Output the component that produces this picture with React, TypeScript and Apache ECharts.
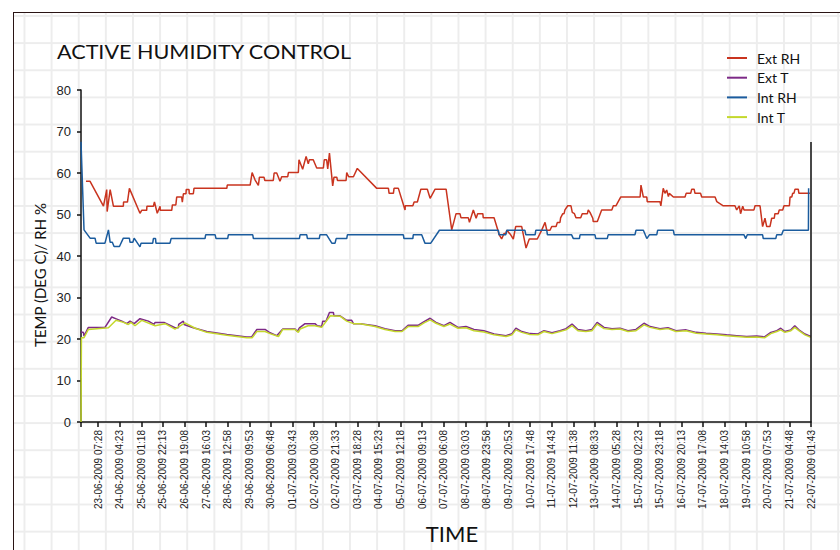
import React, { useEffect, useRef } from "react";
import * as echarts from "echarts";

// Tick labels (one every 20h55m); x values of the series below are expressed
// in units of this label step (0 = first label, 33 = last label).
const tickLabels = [
  "23-06-2009 07:28", "24-06-2009 04:23", "25-06-2009 01:18", "25-06-2009 22:13",
  "26-06-2009 19:08", "27-06-2009 16:03", "28-06-2009 12:58", "29-06-2009 09:53",
  "30-06-2009 06:48", "01-07-2009 03:43", "02-07-2009 00:38", "02-07-2009 21:33",
  "03-07-2009 18:28", "04-07-2009 15:23", "05-07-2009 12:18", "06-07-2009 09:13",
  "07-07-2009 06:08", "08-07-2009 03:03", "08-07-2009 23:58", "09-07-2009 20:53",
  "10-07-2009 17:48", "11-07-2009 14:43", "12-07-2009 11:38", "13-07-2009 08:33",
  "14-07-2009 05:28", "15-07-2009 02:23", "15-07-2009 23:18", "16-07-2009 20:13",
  "17-07-2009 17:08", "18-07-2009 14:03", "19-07-2009 10:58", "20-07-2009 07:53",
  "21-07-2009 04:48", "22-07-2009 01:43",
];
const X_START = -0.79;
const X_END = 33;
const yTicks = [0, 10, 20, 30, 40, 50, 60, 70, 80];

const seriesNames = ["Ext RH", "Ext T", "Int RH", "Int T"];

const extRH: [number, number][] = [
  [-0.56,58],[-0.37,58],[0.25,52],[0.40,56],[0.42,50.7],[0.56,56],[0.71,52],[1.17,52],[1.18,53],[1.36,53],
  [1.45,56.3],[1.94,50.3],[2.02,51],[2.25,51],[2.26,52],[2.56,52],[2.61,53],[2.74,50.3],[2.87,52],[2.88,51],
  [3.41,51],[3.44,52.3],[3.60,52.3],[3.64,54.2],[3.87,54.2],[3.90,53],[3.95,55],[4.07,55],[4.08,56],[4.21,56],
  [4.22,55],[4.41,55],[4.44,56.3],[5.96,56.3],[5.98,57.1],[7.04,57.1],[7.13,60.1],[7.27,58.3],[7.42,57],[7.47,59],
  [7.68,59],[7.72,58.2],[8.11,58.2],[8.15,60],[8.27,60],[8.42,58],[8.50,59.1],[8.78,59.1],[8.81,60.1],[9.27,60.1],
  [9.30,63.2],[9.47,60.9],[9.63,64],[9.73,62.2],[9.78,63.2],[9.96,63.2],[10.12,61.2],[10.43,61.2],[10.47,63.2],[10.58,63.2],
  [10.63,61],[10.71,64.8],[10.86,56.9],[10.92,59],[11.05,59],[11.08,58.2],[11.48,58.2],[11.51,60.1],[11.60,59.1],[11.82,59.1],
  [12.00,61.1],[12.90,56.3],[13.44,56.3],[13.47,55.1],[13.67,55.1],[13.70,56.3],[13.90,56.3],[14.21,51.1],[14.22,52.1],[14.57,52.1],
  [14.63,53],[14.78,53],[14.94,56.1],[15.24,56.1],[15.37,53.9],[15.60,56.1],[16.11,56.1],[16.37,46.3],[16.57,50.2],[16.75,50.2],
  [16.80,49.2],[17.14,49.2],[17.19,48.1],[17.37,51.1],[17.50,49.1],[17.57,50.2],[17.81,50.2],[17.83,49.2],[18.33,49.2],[18.57,45.1],
  [18.68,44.1],[18.79,45.4],[18.88,45.4],[18.92,46.2],[19.10,45.1],[19.22,44.1],[19.33,47.1],[19.61,47.1],[19.81,41.9],[19.96,44.1],
  [20.33,44.1],[20.54,46.3],[20.69,48.1],[20.77,46.2],[20.92,46.2],[21.00,47.1],[21.20,47.1],[21.26,48.1],[21.38,48.1],[21.41,49.2],
  [21.51,50.2],[21.57,50.2],[21.61,51.1],[21.74,52.1],[21.89,52.1],[21.95,50.5],[22.05,50.2],[22.12,49.2],[22.34,49.2],[22.41,50.2],
  [22.65,50.2],[22.69,51.1],[22.77,50.5],[22.90,49.1],[22.92,48.3],[23.11,48.3],[23.31,51.1],[23.78,51.1],[23.85,52.1],[23.97,52.1],
  [24.19,54.2],[25.09,54.2],[25.13,57.1],[25.24,54.2],[25.40,54.2],[25.42,53.1],[26.01,53.1],[26.05,52.1],[26.16,56.3],[26.24,55.1],
  [26.32,55.9],[26.40,54.3],[26.44,55.1],[26.63,54.2],[27.17,54.2],[27.22,55.1],[27.43,55.1],[27.48,56.1],[27.59,56.1],[27.63,55.1],
  [27.89,55.1],[27.94,54.2],[28.56,54.2],[28.64,53.1],[28.94,52.1],[29.48,52.1],[29.56,51.1],[29.68,52.1],[29.74,50.2],[29.84,52],
  [29.90,51.1],[30.36,51.1],[30.41,52.1],[30.64,52.1],[30.76,47.1],[30.87,49.1],[30.95,47.1],[31.10,47.1],[31.18,49.1],[31.30,49.1],
  [31.33,50.2],[31.48,50.2],[31.53,51.1],[31.69,51.1],[31.75,52.1],[32.00,52.1],[32.03,54.2],[32.11,54.2],[32.15,55.1],[32.21,55.1],
  [32.26,56.1],[32.41,56.1],[32.44,55.1],[32.95,55.1],
];

const extT: [number, number][] = [
  [-0.79,21.6],[-0.68,21.6],[-0.65,20.7],[-0.45,22.8],[0.32,22.8],[0.63,25.3],[0.87,24.8],[1.10,24.3],[1.33,23.7],[1.48,24.3],
  [1.67,23.7],[1.94,24.9],[2.33,24.3],[2.59,23.5],[2.64,24],[3.05,24],[3.56,22.7],[3.72,22.7],[3.73,23.5],[3.95,24.3],
  [3.98,23.5],[4.41,22.7],[5.03,21.8],[5.96,21.1],[6.88,20.5],[7.11,20.5],[7.35,22.3],[7.73,22.3],[7.96,21.5],[8.27,20.8],
  [8.55,22.4],[9.12,22.4],[9.22,21.8],[9.32,22.7],[9.58,23.7],[10.04,23.7],[10.15,23.2],[10.35,23],[10.40,24.3],[10.55,24.3],
  [10.71,26.4],[10.89,26.4],[10.92,25.6],[11.20,25.6],[11.51,24.5],[11.74,24.5],[11.82,23.7],[12.13,23.7],[12.82,23.2],[13.28,22.5],
  [13.75,22.0],[14.07,22.0],[14.35,23.3],[14.81,23.3],[15.09,24.2],[15.37,25.0],[15.64,24.0],[16.01,23.2],[16.29,24.0],[16.66,22.8],
  [17.03,23.0],[17.40,22.3],[17.86,22.0],[18.33,21.2],[18.88,20.8],[19.16,21.3],[19.34,22.6],[19.61,21.8],[19.99,21.3],[20.36,21.2],
  [20.64,22.0],[21.01,21.5],[21.38,22.0],[21.66,22.5],[21.94,23.6],[22.21,22.3],[22.58,22.0],[22.86,22.3],[23.10,24.0],[23.42,22.8],
  [23.79,22.5],[24.16,22.6],[24.53,22.0],[24.90,22.3],[25.27,23.8],[25.55,23.0],[26.01,22.5],[26.38,22.7],[26.75,22.0],[27.22,22.2],
  [27.68,21.6],[28.14,21.4],[28.64,21.2],[29.09,21.0],[29.56,20.8],[30.02,20.6],[30.48,20.7],[30.85,20.5],[31.14,21.6],[31.42,22.0],
  [31.60,22.6],[31.79,21.8],[32.07,22.2],[32.25,23.2],[32.44,22.2],[32.72,21.2],[32.99,20.6],
];

const intRH: [number, number][] = [
  [-0.79,67.5],[-0.65,46.3],[-0.37,44.3],[-0.14,44.3],[-0.09,43.1],[0.32,43.1],[0.48,46.3],[0.56,43.3],[0.66,43.3],[0.74,42.3],
  [0.99,42.3],[1.17,44.3],[1.45,44.3],[1.48,43.3],[1.61,43.3],[1.67,44.3],[1.94,42.2],[1.99,43.1],[2.53,43.1],[2.56,44.2],
  [2.66,44.2],[2.68,43.1],[3.33,43.1],[3.38,44.2],[4.95,44.2],[4.98,45.1],[5.42,45.1],[5.46,44.2],[6.00,44.2],[6.03,45.1],
  [7.16,45.1],[7.19,44.2],[9.32,44.2],[9.35,45.1],[9.66,45.1],[9.69,44.2],[10.24,44.2],[10.27,45.1],[10.58,45.1],[10.82,43.1],
  [10.97,43.1],[11.02,44.2],[11.51,44.2],[11.54,45.1],[14.13,45.1],[14.16,44.2],[14.57,44.2],[14.59,45.1],[14.98,45.1],[15.13,43.1],
  [15.40,43.1],[15.80,46.2],[18.53,46.2],[18.56,45.1],[18.87,45.1],[18.92,46.2],[19.76,46.2],[19.80,45.1],[20.23,45.1],[20.26,46.2],
  [20.77,46.2],[20.80,45.1],[21.92,45.1],[22.00,44.2],[22.28,44.2],[22.31,45.1],[23.00,45.1],[23.04,44.2],[23.57,44.2],[23.61,45.1],
  [24.85,45.1],[24.90,46.2],[25.24,46.2],[25.40,44.2],[25.52,45.1],[25.86,45.1],[25.90,46.2],[26.63,46.2],[26.67,45.1],[29.90,45.1],
  [29.98,44.2],[30.05,45.1],[30.76,45.1],[30.79,44.2],[31.37,44.2],[31.41,45.1],[31.64,45.1],[31.72,46.2],[32.88,46.2],[32.89,56.3],
];

const intT: [number, number][] = [
  [-0.79,0],[-0.77,20.3],[-0.65,20.3],[-0.45,22.3],[0.48,22.7],[0.83,24.5],[1.18,24.0],[1.40,23.5],[1.52,24.0],[1.71,23.2],
  [2.02,24.5],[2.64,23.2],[3.10,23.7],[3.56,22.4],[4.02,23.9],[4.50,22.6],[5.03,21.6],[5.96,20.9],[6.88,20.3],[7.13,20.3],
  [7.35,21.8],[7.73,21.8],[7.96,21.3],[8.35,20.6],[8.55,22.3],[9.12,22.3],[9.27,21.6],[9.35,22.4],[9.72,23.2],[10.04,23.2],
  [10.35,22.8],[10.75,25.6],[11.20,25.5],[11.51,24.3],[11.82,23.7],[12.13,23.7],[12.82,23.0],[13.28,22.3],[13.75,21.8],[14.07,21.8],
  [14.35,23.0],[14.81,23.0],[15.09,23.9],[15.37,24.6],[15.64,23.8],[16.01,23.0],[16.29,23.6],[16.66,22.6],[17.03,22.7],[17.40,22.0],
  [17.86,21.7],[18.33,21.0],[18.88,20.6],[19.16,21.0],[19.34,22.2],[19.61,21.6],[19.99,21.1],[20.36,21.0],[20.64,21.8],[21.01,21.3],
  [21.38,21.8],[21.66,22.2],[21.94,23.2],[22.21,22.0],[22.58,21.8],[22.86,22.0],[23.10,23.6],[23.42,22.5],[23.79,22.3],[24.16,22.4],
  [24.53,21.8],[24.90,22.0],[25.27,23.4],[25.55,22.8],[26.01,22.3],[26.38,22.5],[26.75,21.8],[27.22,22.0],[27.68,21.4],[28.14,21.2],
  [28.64,21.0],[29.09,20.8],[29.56,20.6],[30.02,20.4],[30.48,20.5],[30.85,20.3],[31.14,21.3],[31.42,21.8],[31.60,22.2],[31.79,21.6],
  [32.07,22.0],[32.25,22.8],[32.44,22.0],[32.72,21.0],[32.99,20.4],
];

// black vertical marker at the right end of the plot
const endMarker: [number, number][] = [[33, 0], [33, 67.5]];

const colors = ["#c9341f", "#7d2a87", "#1b5c9e", "#c4d82c"];

export default function App() {
  const ref = useRef<HTMLDivElement>(null);

  useEffect(() => {
    if (!ref.current) return;
    const chart = echarts.init(ref.current, null, { renderer: "svg" });
    const labelIdx = tickLabels.map((_, i) => i);
    const datasets = [extRH, extT, intRH, intT];
    chart.setOption({
      animation: false,
      backgroundColor: "transparent",
      textStyle: { fontFamily: "Lato" },
      grid: { left: 81, right: 29, top: 90, bottom: 128, containLabel: false },
      legend: {
        data: seriesNames,
        orient: "vertical",
        left: 727,
        top: 51,
        padding: 0,
        icon: "rect",
        itemWidth: 20,
        itemHeight: 2,
        itemGap: 5.7,
        textStyle: { fontFamily: "Lato", fontSize: 14, lineHeight: 14, color: "#111", padding: [0, 0, 0, 5] },
      },
      xAxis: {
        type: "value",
        min: X_START,
        max: X_END,
        splitLine: { show: false },
        axisLine: { show: true, onZero: false, lineStyle: { color: "#111", width: 1.5 } },
        axisTick: { show: true, length: 5, customValues: [X_START, ...labelIdx], lineStyle: { color: "#111", width: 1.5 } },
        axisLabel: {
          customValues: labelIdx,
          rotate: 90,
          margin: 8,
          fontFamily: "Liberation Sans",
          fontSize: 10,
          color: "#222",
          formatter: (v: number) => tickLabels[Math.round(v)] ?? "",
        },
      },
      yAxis: {
        type: "value",
        min: yTicks[0],
        max: yTicks[yTicks.length - 1],
        interval: 10,
        splitLine: { show: false },
        axisLine: { show: true, onZero: false, lineStyle: { color: "#111", width: 1.5 } },
        axisTick: { show: true, length: 4, lineStyle: { color: "#111", width: 1.5 } },
        axisLabel: { margin: 10, fontFamily: "Liberation Sans", fontSize: 13, color: "#222" },
      },
      series: [
        ...datasets.map((d, i) => ({
          name: seriesNames[i],
          type: "line",
          data: d,
          symbol: "none",
          showSymbol: false,
          color: colors[i],
          lineStyle: { color: colors[i], width: 1.5 },
          z: 2 + i,
        })),
        {
          name: "marker",
          type: "line",
          data: endMarker,
          symbol: "none",
          color: "#111",
          lineStyle: { color: "#111", width: 1.5 },
          z: 10,
        },
      ],
      graphic: [
        {
          type: "text",
          x: 57,
          y: 41,
          scaleX: 1.08,
          style: { text: "ACTIVE HUMIDITY CONTROL", fontFamily: "Lato", fontSize: 20, fill: "#111", textAlign: "left", textVerticalAlign: "top" },
        },
        {
          type: "text",
          x: 452,
          y: 533,
          style: { text: "TIME", fontFamily: "Lato", fontSize: 22, fill: "#111", textAlign: "center", textVerticalAlign: "middle" },
        },
        {
          type: "text",
          x: 40,
          y: 275,
          rotation: Math.PI / 2,
          style: { text: "TEMP (DEG C)/ RH %", fontFamily: "Lato", fontSize: 15, fill: "#111", textAlign: "center", textVerticalAlign: "middle" },
        },
      ],
    });
    return () => chart.dispose();
  }, []);

  return (
    <div style={{ position: "fixed", left: 0, top: 0, width: 840, height: 550, background: "#fff", overflow: "hidden" }}>
      <div
        style={{
          position: "absolute",
          left: 13,
          top: 12,
          right: 0,
          bottom: 0,
          borderTop: "1.5px solid #2a1414",
          borderLeft: "1.5px solid #2a1414",
          backgroundImage:
            "linear-gradient(to right, #ededed 2px, transparent 2px), linear-gradient(to bottom, #ededed 2px, transparent 2px)",
          backgroundSize: "27.14px 27.15px",
          backgroundPosition: "9.5px 2px",
        }}
      />
      <div ref={ref} style={{ position: "absolute", left: 0, top: 0, width: 840, height: 550 }} />
    </div>
  );
}
